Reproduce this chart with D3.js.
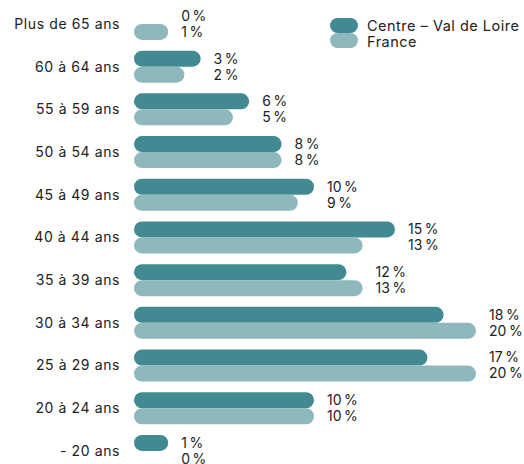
<!DOCTYPE html>
<html>
<head>
<meta charset="utf-8">
<script src="https://cdn.jsdelivr.net/npm/d3@7"></script>
<style>
  body { margin: 0; background: #fff; }
  svg text { font-family: Inter, "Noto Sans", sans-serif; fill: #222; }
</style>
</head>
<body>
<div id="chart"></div>
<script>
"use strict";

// tranches d'age, du haut vers le bas
const categories = ["Plus de 65 ans", "60 à 64 ans", "55 à 59 ans", "50 à 54 ans", "45 à 49 ans",
  "40 à 44 ans", "35 à 39 ans", "30 à 34 ans", "25 à 29 ans", "20 à 24 ans", "- 20 ans"];
const centreValues = [0, 3, 6, 8, 10, 15, 12, 18, 17, 10, 1];
const franceValues = [1, 2, 5, 8, 9, 13, 13, 20, 20, 10, 0];
const seriesNames = ["Centre – Val de Loire", "France"];
const colors = ["#428a92", "#8fb8bd"];

function draw() {
  const width = 524, height = 464;
  const barH = 16;
  const x0 = 134;

  const svg = d3.select("#chart").append("svg")
    .attr("width", width)
    .attr("height", height);

  const y = d3.scaleBand()
    .domain(categories)
    .range([2.6, 472.3])
    .padding(0);

  // longueur de la pastille (une valeur nulle = un cercle)
  const len = d3.scaleLinear().domain([0, 20]).range([barH + 2, 342]);

  const rows = categories.map((c, i) => ({
    name: c,
    values: [centreValues[i], franceValues[i]],
    mid: y(c) + y.bandwidth() / 2
  }));

  const g = svg.append("g");

  // noms des tranches
  g.selectAll("text.cat")
    .data(rows)
    .join("text")
    .attr("class", "cat")
    .attr("x", 120)
    .attr("y", d => d.mid)
    .attr("dy", "0.35em")
    .attr("text-anchor", "end")
    .style("font-size", "14px")
    .style("letter-spacing", "0.6px")
    .text(d => d.name);

  // barres
  rows.forEach(r => {
    r.values.forEach((v, k) => {
      if (v <= 0) return;
      g.append("rect")
        .attr("x", x0)
        .attr("y", r.mid - barH + k * barH)
        .attr("width", len(v))
        .attr("height", barH)
        .attr("rx", barH / 2)
        .attr("fill", colors[k]);
    });
    const end = x0 + d3.max(r.values.map(v => v > 0 ? len(v) : barH));
    r.values.forEach((v, k) => {
      g.append("text")
        .attr("x", end + 13)
        .attr("y", r.mid - barH / 2 + k * barH)
        .attr("dy", "0.35em")
        .style("font-size", "14px")
        .style("letter-spacing", "0.5px")
        .text(v + "\u202F%");
    });
  });

  // legende
  const leg = svg.append("g").attr("transform", "translate(330,18)");
  seriesNames.forEach((n, k) => {
    leg.append("rect")
      .attr("x", 0)
      .attr("y", k * 15)
      .attr("width", 28)
      .attr("height", 15)
      .attr("rx", 7.5)
      .attr("fill", colors[k]);
    leg.append("text")
      .attr("x", 37)
      .attr("y", k * 16 + 8)
      .attr("dy", "0.35em")
      .style("font-size", "14.5px")
      .style("letter-spacing", "0.5px")
      .text(n);
  });
}

draw();
</script>
</body>
</html>
